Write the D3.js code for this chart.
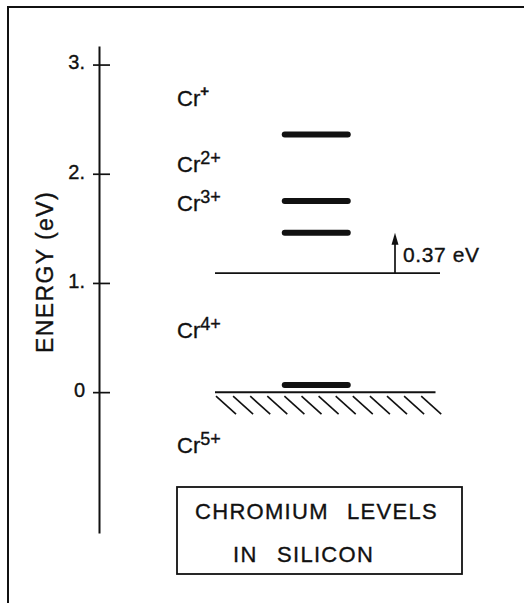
<!DOCTYPE html>
<html>
<head>
<meta charset="utf-8">
<script src="https://cdn.jsdelivr.net/npm/d3@7"></script>
<style>
  html, body { margin: 0; padding: 0; background: #fff; }
  svg { display: block; }
  text { font-family: "Liberation Sans", Arial, sans-serif; fill: #111; stroke: #111; stroke-width: 0.35px; }
</style>
</head>
<body>
<svg id="chart" width="524" height="603"></svg>
<script>
// ---- data ----
const tickValues = [0, 1, 2, 3];
const tickLabels = ["0", "1.", "2.", "3."];
const levelNames = ["Cr+", "Cr3+ a", "Cr3+ b", "Cr5+"];
const levelEnergies = [2.36, 1.75, 1.46, 0.065];
const conductionBand = 1.09;
const valenceBand = 0;
const arrowFrom = 1.09;
const arrowTo = 1.46;
const arrowLabel = "0.37 eV";
const chargeStates = ["+", "2+", "3+", "4+", "5+"];
const chargeLabelEnergies = [2.62, 2.02, 1.66, 0.5, -0.56];
const axisTitle = "ENERGY (eV)";
const boxLines = [["CHROMIUM", "LEVELS"], ["IN", "SILICON"]];

// ---- layout ----
const svg = d3.select("#chart");
const axisX = 99;
const y = d3.scaleLinear().domain([-1.29, 3.17]).range([533, 46]);
const x = d3.scaleLinear().domain([0, 1]).range([215, 440]);

// frame (top and left only)
svg.append("line").attr("x1", 8).attr("x2", 524).attr("y1", 7).attr("y2", 7)
  .attr("stroke", "#111").attr("stroke-width", 2);
svg.append("line").attr("x1", 8).attr("x2", 8).attr("y1", 6).attr("y2", 603)
  .attr("stroke", "#111").attr("stroke-width", 2);

// axis
const axis = d3.axisLeft(y).tickValues(tickValues)
  .tickFormat((d, i) => tickLabels[i]).tickSizeInner(6).tickSizeOuter(0).tickPadding(10);
const gAxis = svg.append("g").attr("transform", `translate(${axisX},0)`).call(axis);
gAxis.select(".domain").attr("stroke", "#111").attr("stroke-width", 2);
gAxis.selectAll(".tick line").attr("x1", -6).attr("x2", 11).attr("stroke", "#111").attr("stroke-width", 1.7);
gAxis.selectAll(".tick text").attr("font-size", 20).attr("fill", "#111")
  .attr("font-family", "Liberation Sans, Arial, sans-serif").attr("dy", "0.22em").attr("x", -14);

// axis title
svg.append("text")
  .attr("transform", `translate(53,272) rotate(-90)`)
  .attr("text-anchor", "middle")
  .attr("font-size", 23).attr("letter-spacing", 1.4)
  .text(axisTitle);

// band edges
svg.append("line").attr("x1", x(0)).attr("x2", x(1))
  .attr("y1", y(conductionBand)).attr("y2", y(conductionBand))
  .attr("stroke", "#111").attr("stroke-width", 1.6);
svg.append("line").attr("x1", x(0)).attr("x2", x(0.98))
  .attr("y1", y(valenceBand)).attr("y2", y(valenceBand))
  .attr("stroke", "#111").attr("stroke-width", 2);

// hatching below valence band
const hatchStarts = d3.range(0.04, 0.97, 0.076);
svg.append("g").selectAll("line").data(hatchStarts).join("line")
  .attr("x1", d => x(d) - 8).attr("y1", y(valenceBand) + 4)
  .attr("x2", d => x(d) + 12).attr("y2", y(valenceBand) + 22)
  .attr("stroke", "#111").attr("stroke-width", 1.6);

// levels
svg.append("g").selectAll("line").data(levelEnergies).join("line")
  .attr("x1", x(0.31)).attr("x2", x(0.59))
  .attr("y1", d => y(d)).attr("y2", d => y(d))
  .attr("stroke", "#111").attr("stroke-width", 6).attr("stroke-linecap", "round");

// arrow
const ax = x(0.8);
svg.append("line").attr("x1", ax).attr("x2", ax)
  .attr("y1", y(arrowFrom)).attr("y2", y(arrowTo) + 8)
  .attr("stroke", "#111").attr("stroke-width", 1.7);
svg.append("path")
  .attr("d", `M${ax},${y(arrowTo)} L${ax - 3.5},${y(arrowTo) + 12} L${ax + 3.5},${y(arrowTo) + 12} Z`)
  .attr("fill", "#111");
svg.append("text").attr("x", ax + 8).attr("y", y(arrowTo) + 29)
  .attr("font-size", 21).attr("letter-spacing", 0.6).text(arrowLabel);

// charge state labels
const lbl = svg.append("g").selectAll("text").data(chargeStates).join("text")
  .attr("x", 177).attr("y", (d, i) => y(chargeLabelEnergies[i]))
  .attr("font-size", 22);
lbl.append("tspan").text("Cr");
lbl.append("tspan").attr("dy", d => d === "+" ? -10 : -8)
  .attr("font-size", d => d === "+" ? 15 : 18)
  .attr("font-weight", d => d === "+" ? "bold" : "normal").text(d => d);

// title box
svg.append("rect").attr("x", 177).attr("y", 487).attr("width", 285).attr("height", 87)
  .attr("fill", "none").attr("stroke", "#111").attr("stroke-width", 1.8);
const boxWordX = [[195, 347], [233, 277]];
const boxWordY = [519, 562];
boxLines.forEach((words, li) => {
  words.forEach((w, wi) => {
    svg.append("text").attr("x", boxWordX[li][wi]).attr("y", boxWordY[li])
      .attr("font-size", 22).attr("letter-spacing", 1.3).text(w);
  });
});
</script>
</body>
</html>
